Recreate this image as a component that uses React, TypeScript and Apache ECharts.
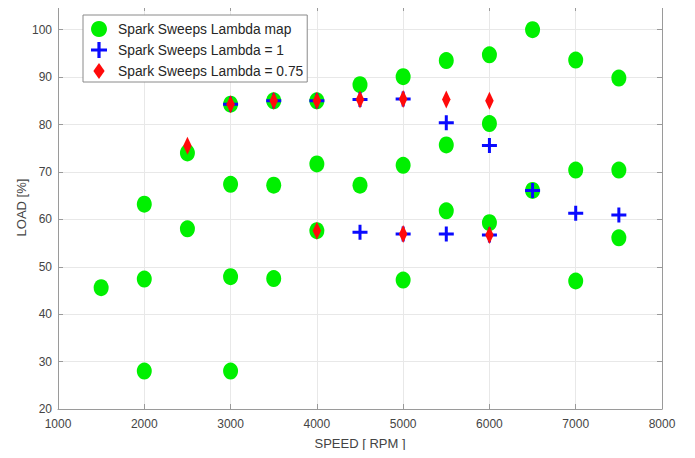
import React, { useEffect, useRef } from "react";
import * as echarts from "echarts";

// Operating points: [speed rpm, load %]
const mapPoints: number[][] = [
  [1500, 45.6],
  [2000, 63.2], [2000, 47.4], [2000, 28.0],
  [2500, 74.0], [2500, 58.0],
  [3000, 84.3], [3000, 67.4], [3000, 47.9], [3000, 28.0],
  [3500, 85.0], [3500, 67.2], [3500, 47.5],
  [4000, 85.0], [4000, 71.7], [4000, 57.6],
  [4500, 88.4], [4500, 67.2],
  [5000, 90.1], [5000, 71.4], [5000, 47.2],
  [5500, 93.5], [5500, 75.7], [5500, 61.8],
  [6000, 94.7], [6000, 80.2], [6000, 59.3],
  [6500, 100.0], [6500, 66.1],
  [7000, 93.6], [7000, 70.4], [7000, 47.0],
  [7500, 89.8], [7500, 70.4], [7500, 56.1],
];

const lambdaOnePoints: number[][] = [
  [3000, 84.3], [3500, 85.0], [4000, 85.0],
  [4500, 85.3], [4500, 57.3],
  [5000, 85.4], [5000, 56.9],
  [5500, 80.4], [5500, 56.9],
  [6000, 75.6], [6000, 56.7],
  [6500, 66.1], [7000, 61.3], [7500, 60.9],
];

const lambdaRichPoints: number[][] = [
  [2500, 75.5], [3000, 84.3], [3500, 85.0],
  [4000, 85.0], [4000, 57.6],
  [4500, 85.3], [5000, 85.4], [5000, 56.9],
  [5500, 85.3], [6000, 85.0], [6000, 56.7],
];

const seriesNames = [
  "Spark Sweeps Lambda map",
  "Spark Sweeps Lambda = 1",
  "Spark Sweeps Lambda = 0.75",
];

const xMin = 1000;
const xMax = 8000;
const xStep = 1000;
const yMin = 20;
const yMax = 105;
const yStep = 10;

const PLUS = "path://M4,0H6V4H10V6H6V10H4V6H0V4H4Z";
const DIAMOND = "path://M6,0L12,8.5L6,17L0,8.5Z";

const FONT = "Liberation Sans, Arial, Helvetica, sans-serif";
const FRAME = "#9a9a9a";
const GRIDLINE = "#e8e8e8";
const LABEL = "#444444";

export default function App() {
  const ref = useRef<HTMLDivElement>(null);

  useEffect(() => {
    if (!ref.current) return;
    const chart = echarts.init(ref.current, null, { renderer: "svg" });

    const frameAxis = {
      axisLine: { show: true, lineStyle: { color: FRAME, width: 1 } },
      axisTick: { show: true, inside: true, length: 5, lineStyle: { color: FRAME } },
    };

    chart.setOption({
      animation: false,
      backgroundColor: "#ffffff",
      textStyle: { fontFamily: FONT },
      grid: { left: 58, right: 33, top: 6, bottom: 49 },
      legend: {
        orient: "vertical",
        left: 83,
        top: 15,
        itemWidth: 28,
        itemHeight: 16,
        itemGap: 5,
        padding: [6, 4, 3, 8],
        borderColor: "#8a8a8a",
        borderWidth: 1,
        backgroundColor: "#ffffff",
        textStyle: { fontSize: 13.8, color: "#262626", fontFamily: FONT },
        data: [
          { name: seriesNames[0], icon: "circle" },
          { name: seriesNames[1], icon: PLUS },
          { name: seriesNames[2], icon: DIAMOND },
        ],
      },
      xAxis: [
        {
          type: "value",
          min: xMin,
          max: xMax,
          interval: xStep,
          name: "SPEED [ RPM ]",
          nameLocation: "middle",
          nameGap: 28,
          nameMoveOverlap: false,
          nameTextStyle: { fontSize: 13, color: LABEL, fontFamily: FONT },
          axisLabel: {
            fontSize: 12,
            color: LABEL,
            margin: 9,
            fontFamily: FONT,
            formatter: (v: number) => String(v),
          },
          splitLine: { show: true, lineStyle: { color: GRIDLINE, width: 1 } },
          ...frameAxis,
        },
        {
          type: "value",
          position: "top",
          min: xMin,
          max: xMax,
          interval: xStep,
          axisLabel: { show: false },
          splitLine: { show: false },
          ...frameAxis,
        },
      ],
      yAxis: [
        {
          type: "value",
          min: yMin,
          max: yMax,
          interval: yStep,
          name: "LOAD [%]",
          nameLocation: "middle",
          nameGap: 30,
          nameMoveOverlap: false,
          nameTextStyle: { fontSize: 13, color: LABEL, fontFamily: FONT },
          axisLabel: { fontSize: 12, color: LABEL, margin: 6, showMaxLabel: false, fontFamily: FONT },
          splitLine: { show: true, lineStyle: { color: GRIDLINE, width: 1 } },
          ...frameAxis,
        },
        {
          type: "value",
          position: "right",
          min: yMin,
          max: yMax,
          interval: yStep,
          axisLabel: { show: false },
          splitLine: { show: false },
          ...frameAxis,
        },
      ],
      series: [
        {
          name: seriesNames[0],
          type: "scatter",
          data: mapPoints,
          symbol: "circle",
          symbolSize: [15, 17],
          itemStyle: { color: "#00f000", opacity: 1 },
          z: 2,
        },
        {
          name: seriesNames[1],
          type: "scatter",
          data: lambdaOnePoints,
          symbol: PLUS,
          symbolSize: 15,
          symbolKeepAspect: true,
          itemStyle: { color: "#0a0aff", opacity: 1 },
          z: 3,
        },
        {
          name: seriesNames[2],
          type: "scatter",
          data: lambdaRichPoints,
          symbol: DIAMOND,
          symbolSize: [12, 18],
          symbolKeepAspect: true,
          itemStyle: { color: "#ff0a0a", opacity: 1 },
          z: 4,
        },
      ],
    });

    return () => chart.dispose();
  }, []);

  return <div ref={ref} style={{ width: 695, height: 458, margin: -8 }} />;
}
